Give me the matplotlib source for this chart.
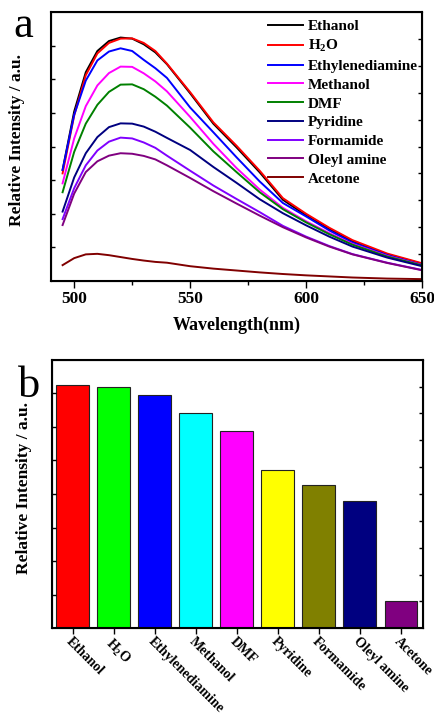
import numpy as np
import matplotlib
matplotlib.use("Agg")
import matplotlib.pyplot as plt

plt.rcParams['font.family'] = ['Liberation Serif', 'DejaVu Serif']
plt.rcParams['mathtext.fontset'] = 'custom'
plt.rcParams['mathtext.rm'] = 'Liberation Serif:bold'
plt.rcParams['mathtext.it'] = 'Liberation Serif:bold'
plt.rcParams['mathtext.bf'] = 'Liberation Serif:bold'

# ----------------------
# DATA
# ----------------------
wavelength = [495, 500, 505, 510, 515, 520, 525, 530, 535, 540,
              550, 560, 570, 580, 590, 600, 610, 620, 635, 650]

ethanol = [0.413, 0.630, 0.776, 0.855, 0.892, 0.905, 0.901, 0.880, 0.850, 0.806,
           0.698, 0.585, 0.497, 0.404, 0.302, 0.244, 0.193, 0.148, 0.099, 0.064]
water = [0.400, 0.615, 0.765, 0.846, 0.885, 0.901, 0.902, 0.885, 0.855, 0.808,
         0.702, 0.590, 0.503, 0.410, 0.308, 0.250, 0.198, 0.152, 0.102, 0.066]
ethylenediamine = [0.413, 0.618, 0.745, 0.820, 0.853, 0.865, 0.855, 0.822, 0.791, 0.755,
                   0.645, 0.553, 0.460, 0.370, 0.290, 0.240, 0.188, 0.143, 0.096, 0.060]
methanol = [0.363, 0.530, 0.650, 0.727, 0.773, 0.797, 0.796, 0.772, 0.742, 0.705,
            0.610, 0.510, 0.420, 0.340, 0.272, 0.222, 0.178, 0.138, 0.093, 0.059]
dmf = [0.330, 0.480, 0.585, 0.655, 0.703, 0.730, 0.731, 0.713, 0.685, 0.652,
       0.570, 0.482, 0.405, 0.330, 0.267, 0.218, 0.174, 0.135, 0.091, 0.058]
pyridine = [0.258, 0.385, 0.475, 0.535, 0.572, 0.586, 0.585, 0.574, 0.555, 0.532,
            0.487, 0.424, 0.365, 0.304, 0.252, 0.207, 0.165, 0.128, 0.087, 0.055]
formamide = [0.230, 0.345, 0.430, 0.485, 0.518, 0.533, 0.530, 0.515, 0.495, 0.466,
             0.410, 0.355, 0.305, 0.256, 0.205, 0.165, 0.130, 0.100, 0.068, 0.041]
oleyl_amine = [0.208, 0.325, 0.405, 0.445, 0.466, 0.475, 0.473, 0.465, 0.452, 0.430,
               0.383, 0.334, 0.288, 0.243, 0.200, 0.162, 0.128, 0.099, 0.067, 0.040]
acetone = [0.059, 0.085, 0.099, 0.101, 0.096, 0.089, 0.082, 0.076, 0.071, 0.068,
           0.055, 0.046, 0.039, 0.032, 0.026, 0.021, 0.017, 0.013, 0.009, 0.007]

solvents = ["Ethanol", "H$_2$O", "Ethylenediamine", "Methanol", "DMF",
            "Pyridine", "Formamide", "Oleyl amine", "Acetone"]
line_colors = ["black", "red", "blue", "magenta", "green",
               "navy", "#8000ff", "purple", "maroon"]
spectra = [ethanol, water, ethylenediamine, methanol, dmf,
           pyridine, formamide, oleyl_amine, acetone]

# peak intensities (panel b)
peak_values = [0.904, 0.900, 0.867, 0.801, 0.733, 0.589, 0.535, 0.475, 0.100]
bar_colors = ["red", "lime", "blue", "cyan", "magenta",
              "yellow", "olive", "navy", "purple"]

W, H = 435, 717
fig = plt.figure(figsize=(W / 100, H / 100), dpi=100)


def frame(ax):
    for s in ax.spines.values():
        s.set_linewidth(1.5)
    ax.set_ylim(0, 1)
    ax.set_yticks(np.arange(0.125, 0.9, 0.125))
    ax.tick_params(axis="y", direction="in", length=3, width=1, labelleft=False)
    tw = ax.twinx()
    tw.set_ylim(0, 1)
    tw.set_yticks(np.arange(0.1, 0.95, 0.1))
    tw.tick_params(axis="y", direction="in", length=3, width=1, labelright=False)
    ax.set_ylabel("Relative Intensity / a.u.", fontsize=12.5, fontweight="bold")


# -----------------------------
# PANEL a - emission spectra
# -----------------------------
ax1 = fig.add_axes([51 / W, 1 - 281 / H, 371 / W, 269 / H])
for name, col, y in zip(solvents, line_colors, spectra):
    ax1.plot(wavelength, y, color=col, lw=1.4, label=name)
ax1.set_xlim(490, 650)
ax1.set_xticks([500, 550, 600, 650])
ax1.set_xticks([525, 575, 625], minor=True)
ax1.tick_params(axis="x", which="major", direction="out", length=5, width=1, pad=2)
ax1.tick_params(axis="x", which="minor", direction="out", length=3, width=1)
for lab in ax1.get_xticklabels():
    lab.set_fontsize(12.5)
    lab.set_fontweight("bold")
ax1.set_xlabel("Wavelength(nm)", fontsize=13, fontweight="bold", labelpad=7)
frame(ax1)
ax1.yaxis.set_label_coords(-0.07, 0.524)
ax1.legend(loc="upper left", bbox_to_anchor=(0.585, 0.972), frameon=False,
           prop={"size": 11, "weight": "bold"}, handlelength=2.3,
           handletextpad=0.3, labelspacing=0.33, borderpad=0, borderaxespad=0)

# -----------------------------
# PANEL b - peak intensity bars
# -----------------------------
ax2 = fig.add_axes([51.7 / W, 1 - 628.3 / H, 371 / W, 268.6 / H])
pos = np.arange(len(solvents))
ax2.bar(pos, peak_values, width=0.8, color=bar_colors, edgecolor="#222222", linewidth=0.8)
ax2.set_xlim(-0.51, 8.53)
ax2.set_xticks(pos)
ax2.set_xticklabels(solvents, rotation=-45, ha="left", va="top",
                    rotation_mode="anchor", fontsize=10, fontweight="bold")
ax2.tick_params(axis="x", direction="out", length=4, width=1, pad=1)
frame(ax2)
ax2.yaxis.set_label_coords(-0.053, 0.522)

fig.text(13 / W, 1 - 37 / H, "a", fontsize=32, va="baseline")
fig.text(18 / W, 1 - 397 / H, "b", fontsize=32, va="baseline")

fig.savefig("out.png", dpi=100)
